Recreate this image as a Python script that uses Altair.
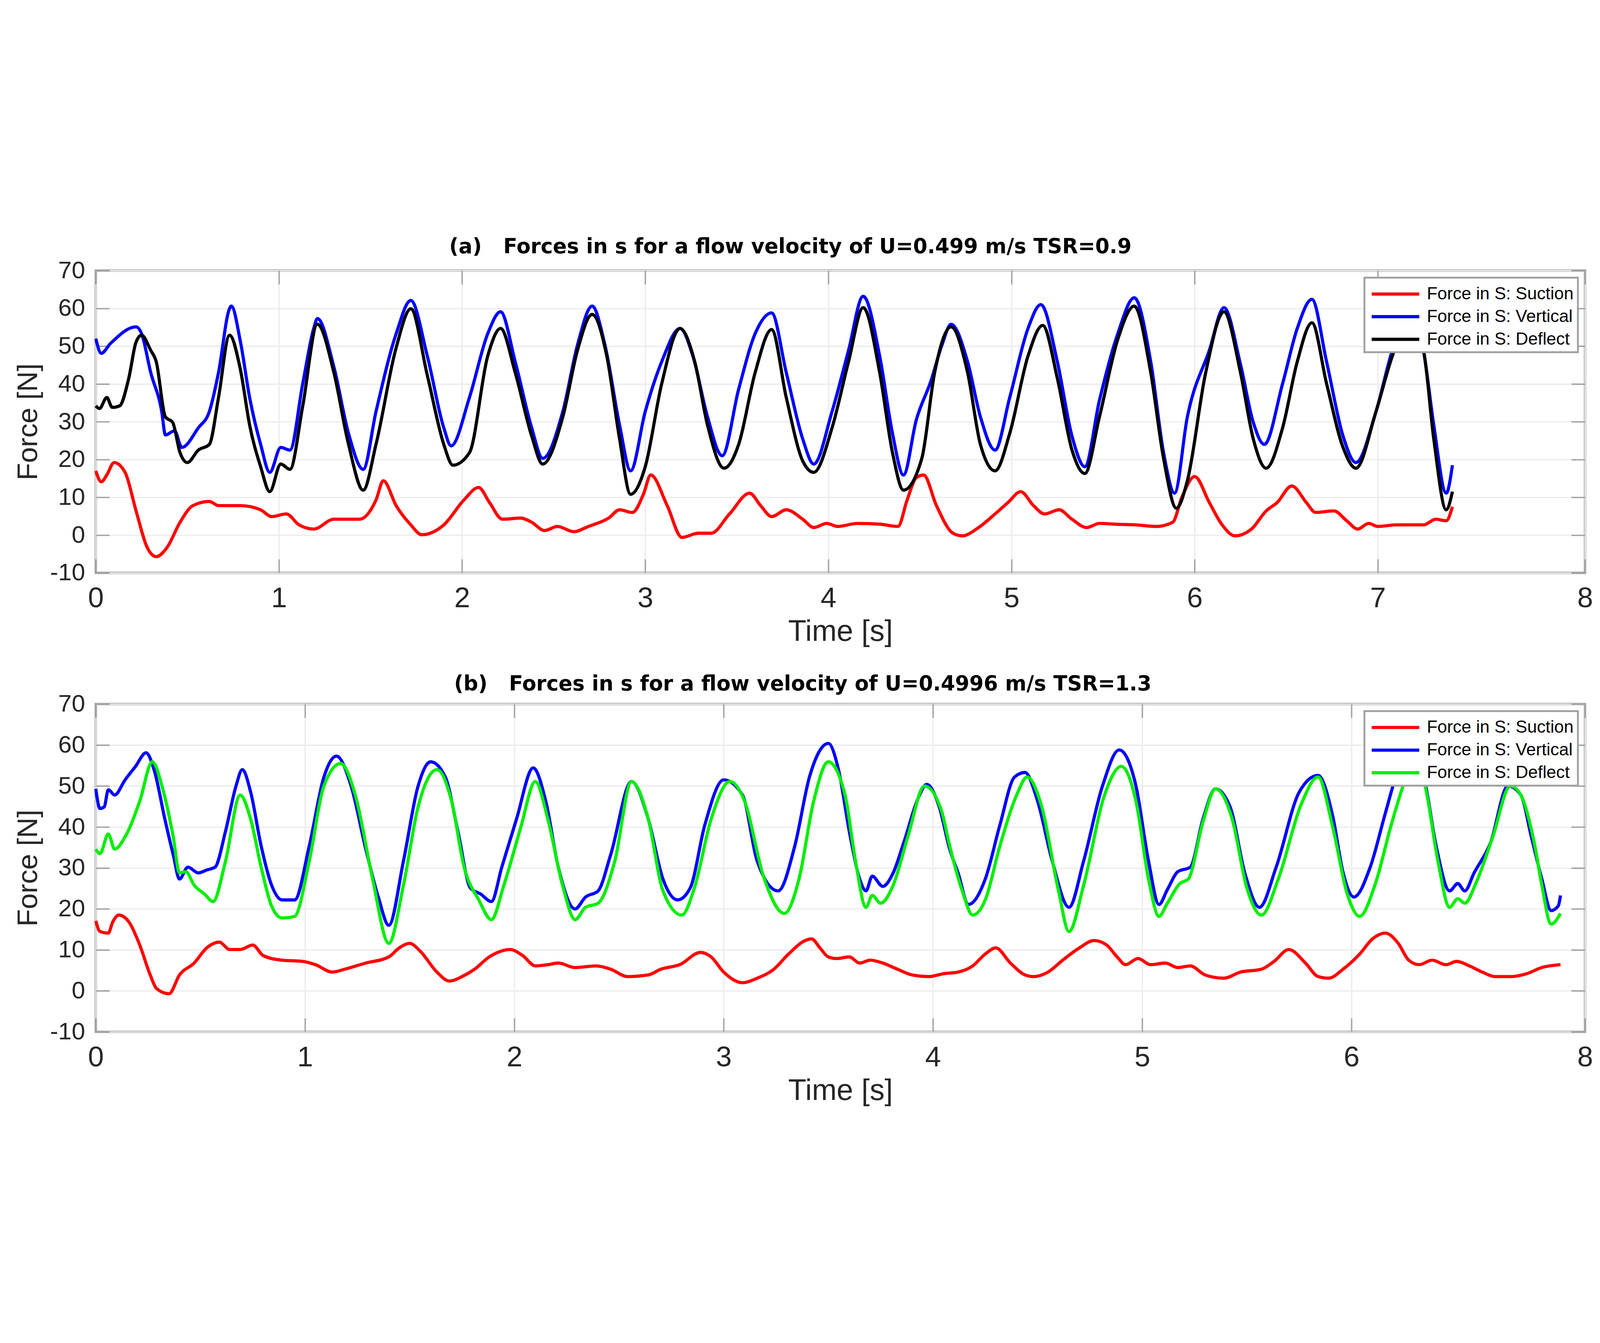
import pandas as pd
import altair as alt

SERIES = ["Force in S: Suction", "Force in S: Vertical", "Force in S: Deflect"]

# (a) U=0.499 m/s, TSR=0.9  -- (time [s], force [N])
a_suction = [(0.00, 17.0), (0.03, 14.1), (0.06, 15.9), (0.10, 19.2), (0.16, 16.6), (0.22, 6.4), (0.28, -3.2),
             (0.33, -5.7), (0.39, -3.2), (0.46, 3.4), (0.53, 7.8), (0.62, 8.9), (0.67, 7.8), (0.79, 7.8),
             (0.90, 6.7), (0.96, 4.9), (1.04, 5.6), (1.11, 2.7), (1.19, 1.6), (1.30, 4.2), (1.44, 4.2),
             (1.53, 9.3), (1.57, 14.4), (1.64, 7.8), (1.72, 2.7), (1.78, 0.1), (1.90, 2.7), (2.01, 9.3),
             (2.09, 12.6), (2.15, 8.6), (2.22, 4.2), (2.32, 4.5), (2.38, 3.4), (2.45, 1.2), (2.52, 2.3),
             (2.61, 0.9), (2.69, 2.3), (2.80, 4.5), (2.86, 6.7), (2.93, 6.0), (2.99, 10.8), (3.03, 15.9),
             (3.12, 7.8), (3.20, -0.6), (3.29, 0.5), (3.36, 0.5), (3.46, 5.6), (3.57, 11.1), (3.63, 7.8),
             (3.69, 4.9), (3.77, 6.7), (3.86, 4.2), (3.92, 2.0), (3.99, 3.1), (4.05, 2.3), (4.16, 3.1),
             (4.28, 2.9), (4.38, 2.3), (4.43, 9.3), (4.48, 15.2), (4.52, 15.9), (4.59, 7.8), (4.68, 0.5),
             (4.73, -0.2), (4.82, 2.0), (4.91, 5.6), (4.98, 8.6), (5.05, 11.5), (5.12, 7.8), (5.18, 5.6),
             (5.26, 6.7), (5.33, 4.2), (5.41, 2.0), (5.48, 3.1), (5.56, 2.9), (5.68, 2.7), (5.79, 2.3),
             (5.88, 3.4), (5.93, 10.0), (6.00, 15.5), (6.08, 8.6), (6.15, 2.7), (6.22, -0.2), (6.31, 1.6),
             (6.39, 6.4), (6.45, 8.6), (6.53, 13.0), (6.61, 8.6), (6.66, 6.0), (6.76, 6.4), (6.83, 3.8),
             (6.89, 1.6), (6.95, 3.1), (7.00, 2.3), (7.09, 2.7), (7.22, 2.7), (7.28, 4.2), (7.33, 3.8),
             (7.36, 7.5)]
a_vertical = [(0.00, 52.0), (0.03, 48.1), (0.08, 50.7), (0.22, 55.1), (0.25, 53.3), (0.30, 43.0), (0.36, 32.7),
              (0.38, 26.5), (0.43, 27.6), (0.47, 23.2), (0.56, 28.4), (0.62, 32.7), (0.67, 43.0), (0.73, 59.9),
              (0.74, 60.6), (0.79, 51.1), (0.84, 36.4), (0.90, 24.0), (0.95, 16.6), (1.01, 23.2), (1.06, 22.5),
              (1.13, 40.1), (1.19, 54.7), (1.21, 57.3), (1.30, 44.5), (1.38, 26.9), (1.46, 17.4), (1.53, 32.7),
              (1.64, 53.3), (1.72, 62.1), (1.81, 47.4), (1.90, 28.4), (1.94, 23.6), (2.04, 36.4), (2.14, 53.3),
              (2.21, 59.1), (2.29, 45.9), (2.38, 28.4), (2.44, 20.3), (2.55, 32.7), (2.63, 50.3), (2.71, 60.6),
              (2.78, 50.3), (2.86, 29.1), (2.92, 17.0), (3.00, 32.7), (3.09, 45.9), (3.19, 54.7), (3.26, 47.4),
              (3.34, 31.3), (3.42, 21.0), (3.51, 38.6), (3.60, 53.3), (3.69, 58.8), (3.77, 43.0), (3.86, 25.4),
              (3.92, 18.8), (4.02, 32.7), (4.11, 48.9), (4.19, 63.2), (4.28, 47.4), (4.35, 26.9), (4.41, 15.9),
              (4.48, 30.5), (4.56, 40.8), (4.62, 50.3), (4.67, 55.8), (4.76, 45.9), (4.83, 31.3), (4.91, 22.5),
              (4.99, 36.4), (5.09, 54.7), (5.16, 61.0), (5.25, 45.9), (5.33, 26.2), (5.40, 18.1), (5.48, 35.7),
              (5.58, 53.3), (5.67, 62.8), (5.76, 45.9), (5.83, 21.8), (5.89, 11.1), (5.96, 31.3), (6.08, 48.9),
              (6.16, 60.2), (6.25, 45.2), (6.32, 29.8), (6.38, 24.0), (6.48, 40.1), (6.56, 54.7), (6.64, 62.4),
              (6.72, 45.9), (6.81, 26.2), (6.88, 19.2), (6.99, 32.7), (7.07, 48.9), (7.15, 59.0), (7.22, 48.9),
              (7.27, 29.1), (7.33, 11.1), (7.36, 18.5)]
a_deflect = [(0.00, 34.2), (0.02, 33.5), (0.06, 36.4), (0.09, 33.8), (0.13, 34.2), (0.18, 41.5), (0.22, 51.1),
             (0.25, 52.9), (0.30, 48.9), (0.33, 45.9), (0.38, 31.3), (0.42, 29.8), (0.46, 21.8), (0.50, 19.2),
             (0.56, 22.5), (0.62, 24.0), (0.67, 36.4), (0.73, 52.9), (0.79, 43.7), (0.84, 29.1), (0.90, 18.1),
             (0.95, 11.5), (1.01, 18.8), (1.06, 17.4), (1.13, 34.2), (1.21, 55.8), (1.30, 43.0), (1.38, 24.0),
             (1.46, 11.9), (1.53, 24.0), (1.64, 49.6), (1.72, 59.9), (1.81, 42.3), (1.90, 24.0), (1.95, 18.5),
             (2.04, 21.8), (2.14, 47.4), (2.21, 54.7), (2.29, 43.0), (2.38, 26.2), (2.44, 18.8), (2.55, 31.3),
             (2.63, 48.9), (2.71, 58.4), (2.79, 47.4), (2.86, 25.4), (2.92, 10.8), (3.00, 18.1), (3.09, 40.1),
             (3.19, 54.7), (3.27, 45.9), (3.34, 29.1), (3.43, 17.7), (3.51, 24.0), (3.60, 43.0), (3.69, 54.4),
             (3.77, 36.4), (3.86, 19.6), (3.92, 16.6), (4.02, 28.4), (4.11, 45.9), (4.19, 60.2), (4.28, 43.0),
             (4.35, 21.8), (4.41, 11.9), (4.51, 20.3), (4.58, 43.0), (4.67, 55.1), (4.76, 43.0), (4.83, 24.0),
             (4.91, 17.0), (4.99, 26.9), (5.09, 47.4), (5.17, 55.5), (5.25, 41.5), (5.33, 22.5), (5.40, 16.3),
             (5.48, 31.3), (5.58, 51.8), (5.67, 60.6), (5.76, 43.0), (5.83, 20.3), (5.90, 7.1), (5.96, 14.4),
             (6.06, 43.0), (6.16, 59.1), (6.25, 43.0), (6.32, 25.4), (6.39, 17.7), (6.48, 28.4), (6.56, 45.9),
             (6.64, 56.2), (6.72, 40.1), (6.81, 23.2), (6.88, 17.7), (6.99, 32.7), (7.07, 47.4), (7.15, 57.0),
             (7.22, 48.9), (7.27, 25.4), (7.33, 6.7), (7.36, 11.5)]

# (b) U=0.4996 m/s, TSR=1.3
b_suction = [(0.00, 17.1), (0.02, 14.5), (0.06, 14.1), (0.08, 16.7), (0.11, 18.5), (0.16, 16.7), (0.21, 11.2),
             (0.26, 3.9), (0.29, 0.6), (0.35, -0.7), (0.40, 3.9), (0.47, 6.8), (0.53, 10.5), (0.59, 11.9),
             (0.64, 10.1), (0.69, 10.1), (0.75, 11.2), (0.80, 8.6), (0.89, 7.5), (0.99, 7.2), (1.05, 6.4),
             (1.13, 4.6), (1.19, 5.3), (1.29, 6.8), (1.40, 8.3), (1.45, 10.5), (1.50, 11.6), (1.55, 9.7),
             (1.63, 4.6), (1.69, 2.4), (1.75, 3.5), (1.81, 5.3), (1.88, 8.3), (1.98, 10.1), (2.04, 8.6),
             (2.10, 6.1), (2.16, 6.4), (2.21, 6.8), (2.29, 5.7), (2.39, 6.1), (2.46, 5.3), (2.54, 3.5),
             (2.64, 3.9), (2.70, 5.3), (2.79, 6.4), (2.89, 9.4), (2.94, 8.3), (3.00, 4.6), (3.09, 2.0),
             (3.16, 3.1), (3.24, 5.3), (3.31, 9.0), (3.39, 12.3), (3.42, 12.7), (3.46, 10.5), (3.50, 8.3),
             (3.54, 7.9), (3.60, 8.3), (3.65, 6.8), (3.70, 7.5), (3.76, 6.8), (3.83, 5.3), (3.90, 3.9),
             (3.98, 3.5), (4.05, 4.2), (4.12, 4.6), (4.19, 6.1), (4.25, 9.0), (4.30, 10.5), (4.37, 6.8),
             (4.44, 3.9), (4.48, 3.5), (4.55, 4.6), (4.62, 7.5), (4.70, 10.5), (4.77, 12.3), (4.83, 11.2),
             (4.88, 8.3), (4.92, 6.4), (4.98, 7.9), (5.04, 6.4), (5.11, 6.8), (5.17, 5.7), (5.23, 6.1),
             (5.30, 3.9), (5.39, 3.1), (5.47, 4.6), (5.57, 5.3), (5.63, 7.2), (5.70, 10.1), (5.78, 6.8),
             (5.84, 3.5), (5.89, 3.1), (5.96, 5.3), (6.07, 9.0), (6.18, 12.7), (6.29, 14.1), (6.40, 11.6),
             (6.49, 7.5), (6.58, 6.4), (6.69, 7.5), (6.81, 6.4), (6.90, 7.2), (7.01, 6.1), (7.12, 4.6),
             (7.23, 3.5), (7.37, 3.5), (7.50, 4.2), (7.63, 5.7), (7.79, 6.4)]
b_vertical = [(0.00, 49.3), (0.02, 44.5), (0.04, 44.9), (0.06, 49.1), (0.09, 47.8), (0.14, 51.5), (0.19, 54.8),
              (0.24, 58.1), (0.28, 53.7), (0.33, 41.9), (0.37, 33.2), (0.40, 27.3), (0.44, 30.2), (0.49, 28.8),
              (0.53, 29.5), (0.57, 30.2), (0.62, 39.0), (0.67, 50.0), (0.70, 54.0), (0.74, 48.5), (0.79, 35.4),
              (0.84, 25.8), (0.89, 22.2), (0.95, 22.2), (1.02, 35.4), (1.09, 52.2), (1.15, 57.3), (1.22, 50.0),
              (1.29, 34.6), (1.35, 22.9), (1.40, 16.0), (1.47, 31.7), (1.54, 50.0), (1.60, 55.9), (1.67, 52.2),
              (1.73, 39.0), (1.79, 25.1), (1.84, 23.6), (1.89, 21.8), (1.94, 30.2), (2.01, 41.9), (2.09, 54.4),
              (2.15, 46.3), (2.21, 30.2), (2.29, 20.0), (2.34, 22.9), (2.40, 24.4), (2.46, 33.2), (2.56, 51.1),
              (2.64, 41.9), (2.71, 27.3), (2.78, 22.2), (2.84, 25.1), (2.91, 40.5), (3.00, 51.5), (3.09, 47.8),
              (3.16, 31.7), (3.26, 24.4), (3.34, 35.4), (3.41, 52.2), (3.50, 60.4), (3.55, 53.7), (3.60, 39.0),
              (3.65, 27.3), (3.68, 24.4), (3.71, 28.0), (3.76, 25.5), (3.81, 28.8), (3.86, 36.1), (3.93, 47.1),
              (3.97, 50.4), (4.03, 44.9), (4.08, 34.6), (4.12, 28.8), (4.17, 21.1), (4.25, 27.3), (4.32, 40.5),
              (4.39, 52.2), (4.44, 53.3), (4.50, 46.3), (4.57, 31.7), (4.65, 20.4), (4.72, 31.7), (4.81, 50.0),
              (4.89, 58.8), (4.97, 50.0), (5.03, 31.7), (5.08, 21.1), (5.12, 24.7), (5.17, 29.1), (5.23, 30.2),
              (5.29, 41.9), (5.35, 49.3), (5.42, 44.9), (5.49, 28.8), (5.56, 20.4), (5.64, 30.2), (5.75, 48.5),
              (5.84, 52.6), (5.91, 42.7), (5.96, 28.8), (6.02, 22.9), (6.16, 30.2), (6.29, 43.4), (6.38, 52.2),
              (6.50, 58.0), (6.63, 50.7), (6.72, 36.1), (6.84, 24.4), (6.91, 26.2), (6.97, 24.4), (7.05, 28.8),
              (7.19, 36.1), (7.34, 50.0), (7.45, 47.8), (7.54, 37.6), (7.63, 27.3), (7.71, 19.6), (7.77, 20.7),
              (7.79, 23.3)]
b_deflect = [(0.00, 34.6), (0.02, 33.5), (0.06, 38.3), (0.09, 34.6), (0.14, 37.6), (0.21, 46.3), (0.27, 55.9),
             (0.32, 49.3), (0.37, 37.6), (0.40, 28.8), (0.43, 29.1), (0.47, 25.8), (0.52, 23.6), (0.56, 21.8),
             (0.62, 31.7), (0.69, 47.8), (0.74, 41.9), (0.79, 30.2), (0.84, 20.7), (0.89, 17.8), (0.95, 18.2),
             (1.02, 31.7), (1.09, 50.0), (1.17, 55.5), (1.24, 47.8), (1.32, 28.0), (1.40, 11.6), (1.47, 25.8),
             (1.54, 44.9), (1.63, 54.0), (1.70, 46.3), (1.76, 30.2), (1.83, 22.2), (1.89, 17.4), (1.95, 25.8),
             (2.03, 39.8), (2.10, 51.1), (2.16, 41.9), (2.23, 25.8), (2.29, 17.4), (2.34, 20.4), (2.40, 21.4),
             (2.48, 31.7), (2.56, 51.1), (2.64, 41.9), (2.71, 24.4), (2.80, 18.5), (2.86, 25.1), (2.94, 41.9),
             (3.03, 51.1), (3.10, 46.3), (3.19, 28.0), (3.29, 18.9), (3.36, 27.3), (3.43, 46.3), (3.50, 55.9),
             (3.58, 47.8), (3.63, 31.7), (3.68, 20.4), (3.71, 23.3), (3.75, 21.4), (3.81, 25.8), (3.88, 37.6),
             (3.96, 50.0), (4.04, 44.1), (4.08, 35.4), (4.14, 24.4), (4.19, 18.5), (4.25, 22.2), (4.32, 35.4),
             (4.40, 47.8), (4.45, 52.2), (4.52, 44.9), (4.60, 24.4), (4.65, 14.5), (4.72, 25.8), (4.82, 47.8),
             (4.90, 54.8), (4.97, 46.3), (5.03, 27.3), (5.08, 18.2), (5.12, 21.4), (5.18, 26.2), (5.22, 27.3),
             (5.29, 41.2), (5.35, 49.3), (5.43, 41.9), (5.50, 25.1), (5.57, 18.5), (5.65, 27.3), (5.76, 45.6),
             (5.84, 52.2), (5.91, 40.0), (5.98, 23.6), (6.07, 18.2), (6.20, 25.8), (6.34, 40.5), (6.45, 50.7),
             (6.53, 56.0), (6.63, 50.0), (6.74, 31.7), (6.84, 20.4), (6.91, 22.5), (6.97, 21.4), (7.07, 26.6),
             (7.21, 37.6), (7.36, 50.0), (7.45, 47.8), (7.57, 35.4), (7.63, 25.8), (7.71, 16.3), (7.79, 18.9)]

a_colors = ["#ff0000", "#0000ff", "#000000"]
b_colors = ["#ff0000", "#0000ff", "#00ee00"]
y_ticks = list(range(-10, 71, 10))
FRAME = "#a0a0a0"
TICK_LEN = 52


def to_frame(parts):
    frames = []
    for name, pts in zip(SERIES, parts):
        frames.append(pd.DataFrame(pts, columns=["time", "force"]).assign(series=name))
    return pd.concat(frames, ignore_index=True)


def inner_ticks(df, xscale, yscale, x_ticks, x_orient, y_orient):
    # invisible layer that only carries MATLAB-style inward tick marks
    tick_style = dict(offset=-TICK_LEN, ticks=True, tickSize=TICK_LEN, tickWidth=5, tickColor=FRAME,
                      labels=False, grid=False, domain=False, title=None)
    return alt.Chart(df).mark_point(opacity=0).encode(
        x=alt.X("time:Q", scale=xscale, axis=alt.Axis(orient=x_orient, values=x_ticks, **tick_style)),
        y=alt.Y("force:Q", scale=yscale, axis=alt.Axis(orient=y_orient, values=y_ticks, **tick_style)),
    )


def panel(df, colors, title, dx, dy, height, x_domain, x_range, x_ticks):
    xscale = alt.Scale(domain=x_domain, range=x_range, nice=False, zero=False)
    yscale = alt.Scale(domain=[-10, 70], nice=False)
    lines = alt.Chart(df).mark_line(strokeWidth=12, interpolate="monotone").encode(
        x=alt.X("time:Q", scale=xscale,
                axis=alt.Axis(values=x_ticks, title="Time [s]", labelFlush=False,
                              labelFont="Liberation Sans Narrow, Liberation Sans", labelFontSize=108,
                              titleFontSize=113)),
        y=alt.Y("force:Q", scale=yscale,
                axis=alt.Axis(values=y_ticks, title="Force [N]", labelExpr="'' + datum.value")),
        color=alt.Color("series:N", sort=SERIES,
                        scale=alt.Scale(domain=SERIES, range=colors),
                        legend=alt.Legend(title=None, orient="top-right", offset=27,
                                          symbolType="M-2.26,0H2.26", symbolSize=6400, symbolStrokeWidth=12,
                                          symbolOffset=56, labelOffset=73, rowPadding=7, padding=16,
                                          labelLimit=0, labelFont="Liberation Sans", labelFontSize=66,
                                          labelColor="black", fillColor="white", strokeColor=FRAME)),
        detail="series:N"
    )
    return alt.layer(
        lines,
        inner_ticks(df, xscale, yscale, x_ticks, "top", "right"),
        inner_ticks(df, xscale, yscale, x_ticks, "bottom", "left"),
    ).resolve_axis(
        x="independent", y="independent"
    ).properties(
        width=5657, height=height,
        title=alt.TitleParams(title, font="DejaVu Sans", fontSize=78, fontWeight="bold", color="black",
                              frame="group", baseline="alphabetic", offset=59, dy=dy, dx=dx,
                              anchor="middle")
    )


top = panel(to_frame([a_suction, a_vertical, a_deflect]), a_colors,
            "(a)\u00a0\u00a0\u00a0Forces in s for a flow velocity of U=0.499 m/s TSR=0.9",
            -190, 117, 1148, [0, 7, 8], [0, 4870, 5657], list(range(0, 9)))
bottom = panel(to_frame([b_suction, b_vertical, b_deflect]), b_colors,
               "(b)\u00a0\u00a0\u00a0Forces in s for a flow velocity of U=0.4996 m/s TSR=1.3",
               -143, 131, 1245, [0, 6, 8], [0, 4770, 5657], [0, 1, 2, 3, 4, 5, 6, 8])

chart = alt.vconcat(top, bottom, spacing=93).resolve_scale(
    color="independent"
).properties(
    padding={"left": 38, "top": 64, "right": 10, "bottom": 10}
).configure(
    background="white"
).configure_view(
    stroke=FRAME, strokeWidth=9
).configure_axis(
    domain=False, ticks=False,
    gridColor="#ececec", gridWidth=5,
    labelFont="Liberation Sans", labelFontSize=92, labelColor="#262626",
    titleFont="Liberation Sans", titleFontSize=108, titleFontWeight="normal", titleColor="#262626"
).configure_axisX(
    labelPadding=45, titlePadding=17
).configure_axisY(
    labelPadding=41, titlePadding=26
).configure_legend(
    strokeWidth=7
)

chart.save("out.html", embed_options={"renderer": "svg", "actions": False})
